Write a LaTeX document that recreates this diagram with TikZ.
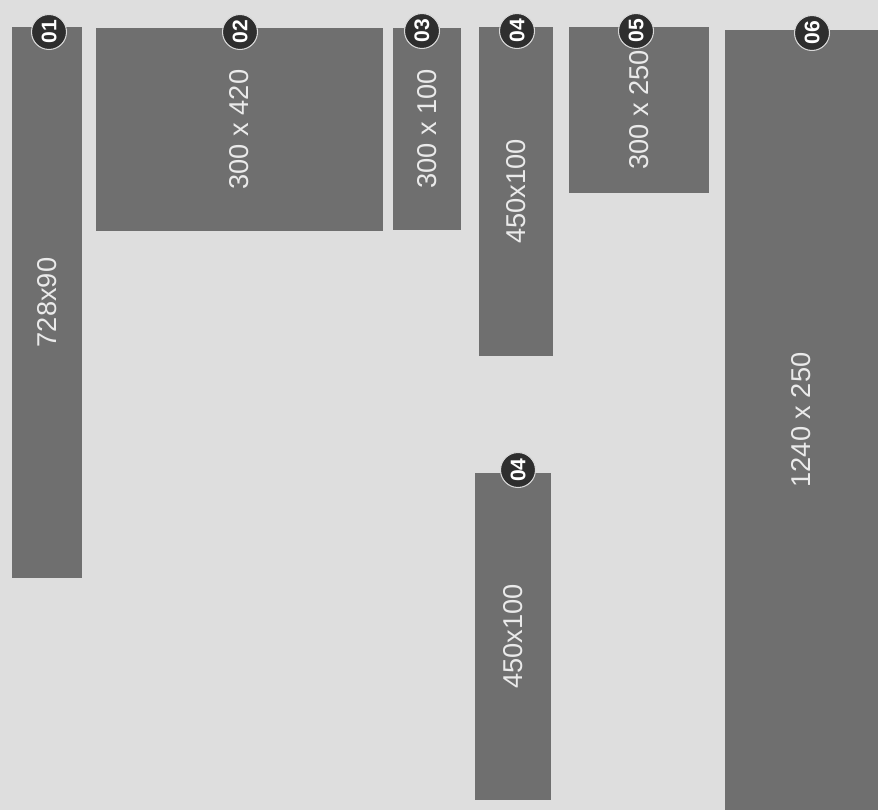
\documentclass[tikz,border=0pt]{standalone}
\usepackage{fontspec}
\setmainfont{Liberation Sans}
\definecolor{pagegray}{HTML}{DEDEDE}
\definecolor{slotgray}{HTML}{6F6F6F}
\definecolor{badgedark}{HTML}{2E2E2E}
\definecolor{slottext}{HTML}{EAEAEA}
\tikzset{
  slot/.style={fill=slotgray},
  sizetext/.style={
    rotate=90,
    text=slottext,
    font=\fontsize{15.5}{18}\selectfont
  },
  badge/.style={
    circle,
    fill=badgedark,
    draw=white!85!black,
    line width=0.6pt,
    minimum size=0.7cm,
    inner sep=0pt,
    text=white,
    rotate=90,
    font=\bfseries\fontsize{12}{14}\selectfont
  }
}

\begin{document}
\begin{tikzpicture}[x=0.02cm,y=-0.02cm]
  \fill[pagegray] (0,0) rectangle (878,810);
  \useasboundingbox (0,0) rectangle (878,810);

  % ad slots
  \fill[slot] (12,27) rectangle (82,578) node[sizetext,midway] (s01) {728x90};
  \fill[slot] (96,28) rectangle (383,231) node[sizetext,midway] (s02) {300 x 420};
  \fill[slot] (393,28) rectangle (461,230) node[sizetext,midway] (s03) {300 x 100};
  \fill[slot] (479,27) rectangle (553,356) node[sizetext,midway] (s04) {450x100};
  \fill[slot] (569,27) rectangle (709,193) node[sizetext,midway] (s05) {300 x 250};
  \fill[slot] (725,30) rectangle (878,810) node[sizetext,midway] (s06) {1240 x 250};
  \fill[slot] (475,473) rectangle (551,800) node[sizetext,midway] (s04b) {450x100};

  % numbered badges
  \node[badge] (b01) at (49,32) {01};
  \node[badge] (b02) at (240,32) {02};
  \node[badge] (b03) at (422,31) {03};
  \node[badge] (b04) at (517,31) {04};
  \node[badge] (b05) at (636,31) {05};
  \node[badge] (b06) at (812,33) {06};
  \node[badge] (b04b) at (518,470) {04};
\end{tikzpicture}
\end{document}
